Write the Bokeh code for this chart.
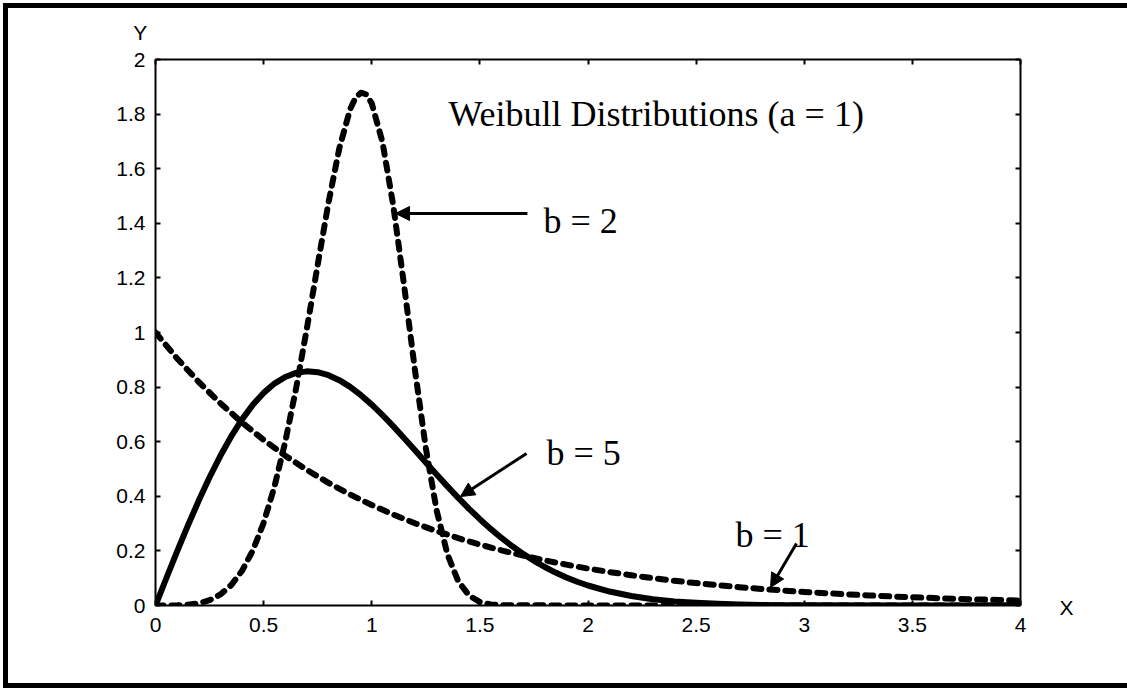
from bokeh.plotting import figure
from bokeh.models import (LinearAxis, Range1d, FixedTicker, Label, Arrow,
                          NormalHead)
from bokeh.embed import file_html
from bokeh.resources import INLINE

# Weibull densities, scale a = 1, shapes as labelled on the chart
x_b1 = [0.0, 0.1, 0.2, 0.3, 0.4, 0.5, 0.6, 0.7, 0.8, 0.9, 1.0, 1.1, 1.2, 1.3,
        1.4, 1.5, 1.6, 1.7, 1.8, 1.9, 2.0, 2.1, 2.2, 2.3, 2.4, 2.5, 2.6, 2.7,
        2.8, 2.9, 3.0, 3.1, 3.2, 3.3, 3.4, 3.5, 3.6, 3.7, 3.8, 3.9, 4.0]
y_b1 = [1.0, 0.9048, 0.8187, 0.7408, 0.6703, 0.6065, 0.5488, 0.4966, 0.4493,
        0.4066, 0.3679, 0.3329, 0.3012, 0.2725, 0.2466, 0.2231, 0.2019, 0.1827,
        0.1653, 0.1496, 0.1353, 0.1225, 0.1108, 0.1003, 0.0907, 0.0821, 0.0743,
        0.0672, 0.0608, 0.0550, 0.0498, 0.0450, 0.0408, 0.0369, 0.0334, 0.0302,
        0.0273, 0.0247, 0.0224, 0.0202, 0.0183]

x_solid = [0.0, 0.05, 0.1, 0.15, 0.2, 0.25, 0.3, 0.35, 0.4, 0.45, 0.5, 0.55,
           0.6, 0.65, 0.7, 0.75, 0.8, 0.85, 0.9, 0.95, 1.0, 1.05, 1.1, 1.15,
           1.2, 1.25, 1.3, 1.35, 1.4, 1.45, 1.5, 1.55, 1.6, 1.65, 1.7, 1.75,
           1.8, 1.85, 1.9, 1.95, 2.0, 2.1, 2.2, 2.3, 2.4, 2.5, 2.6, 2.7, 2.8,
           2.9, 3.0, 3.5, 4.0]
y_solid = [0.0, 0.0998, 0.198, 0.2933, 0.3843, 0.4697, 0.5484, 0.6193, 0.6817,
           0.7350, 0.7788, 0.8129, 0.8372, 0.8520, 0.8577, 0.8547, 0.8437,
           0.8254, 0.8008, 0.7705, 0.7358, 0.6973, 0.6560, 0.6129, 0.5686,
           0.5240, 0.4797, 0.4364, 0.3944, 0.3542, 0.3162, 0.2806, 0.2474,
           0.2169, 0.1890, 0.1637, 0.1410, 0.1207, 0.1028, 0.0870, 0.0733,
           0.0511, 0.0348, 0.0232, 0.0151, 0.0097, 0.0060, 0.0037, 0.0022,
           0.0013, 0.0007, 0.0, 0.0]

x_peak = [0.0, 0.05, 0.1, 0.15, 0.2, 0.25, 0.3, 0.35, 0.4, 0.45, 0.5, 0.55,
          0.6, 0.65, 0.7, 0.75, 0.8, 0.85, 0.9, 0.925, 0.95, 0.975, 1.0, 1.05,
          1.1, 1.15, 1.2, 1.25, 1.3, 1.35, 1.4, 1.45, 1.5, 1.55, 1.6, 2.0, 2.5,
          3.0, 3.5, 4.0]
y_peak = [0.0, 0.0, 0.0005, 0.0025, 0.008, 0.0195, 0.0404, 0.0746, 0.1267,
          0.2013, 0.3029, 0.4351, 0.5995, 0.7948, 1.0148, 1.2478, 1.4758,
          1.6747, 1.8177, 1.8598, 1.8785, 1.8721, 1.8394, 1.6961, 1.4625,
          1.1702, 0.8612, 0.5772, 0.3486, 0.1875, 0.0887, 0.0364, 0.0127,
          0.0038, 0.0009, 0.0, 0.0, 0.0, 0.0, 0.0]

x_ticks = [0, 0.5, 1, 1.5, 2, 2.5, 3, 3.5, 4]
x_tick_labels = ["0", "0.5", "1", "1.5", "2", "2.5", "3", "3.5", "4"]
y_ticks = [0, 0.2, 0.4, 0.6, 0.8, 1, 1.2, 1.4, 1.6, 1.8, 2]
y_tick_labels = ["0", "0.2", "0.4", "0.6", "0.8", "1", "1.2", "1.4", "1.6",
                 "1.8", "2"]

title_text = "Weibull Distributions (a = 1)"
curve_labels = ["b = 2", "b = 5", "b = 1"]

SANS = "Liberation Sans"
SERIF = "Liberation Serif"

# figure offset 3px from the page corner; black 5px strips painted inside its
# top, left and bottom edges (the border area is transparent so they show)
p = figure(width=1124, height=685, output_backend="svg", toolbar_location=None,
           x_range=Range1d(0, 4), y_range=Range1d(0, 2),
           min_border_left=152, min_border_right=107,
           min_border_top=56, min_border_bottom=83,
           x_axis_location=None, y_axis_location=None)
p.styles = {"margin-top": "3px", "margin-left": "3px",
            "background-color": "white",
            "box-shadow": ("inset 5px 0 0 0 black, inset 0 5px 0 0 black, "
                           "inset 0 -5px 0 0 black")}
p.grid.visible = False
p.outline_line_color = None
p.background_fill_color = "white"
p.border_fill_color = None


def style_axis(ax, ticks, labels, show_labels, standoff):
    ax.ticker = FixedTicker(ticks=ticks)
    ax.major_label_overrides = {t: s for t, s in zip(ticks, labels)}
    ax.minor_tick_line_color = None
    ax.major_tick_in = 5
    ax.major_tick_out = 0
    ax.major_tick_line_width = 2
    ax.major_tick_line_color = "black"
    ax.axis_line_width = 2
    ax.axis_line_color = "black"
    ax.major_label_text_font = SANS
    ax.major_label_text_font_size = "21px"
    ax.major_label_text_color = "black" if show_labels else None
    ax.major_label_standoff = standoff


bottom = LinearAxis()
style_axis(bottom, x_ticks, x_tick_labels, True, 12)
top = LinearAxis()
style_axis(top, x_ticks, x_tick_labels, False, 4)
left = LinearAxis()
style_axis(left, y_ticks, y_tick_labels, True, 10)
right = LinearAxis()
style_axis(right, y_ticks, y_tick_labels, False, 4)
p.add_layout(bottom, "below")
p.add_layout(top, "above")
p.add_layout(left, "left")
p.add_layout(right, "right")

# curves
dash = "8 8"
p.line(x_b1, y_b1, line_color="black", line_width=6, line_dash=dash,
       line_cap="round", line_join="round")
p.line(x_peak, y_peak, line_color="black", line_width=6, line_dash=dash,
       line_cap="round", line_join="round")
p.line(x_solid, y_solid, line_color="black", line_width=6,
       line_cap="round", line_join="round")

# axis names, placed in the side panels so they sit outside the frame
p.add_layout(Label(x=-0.07, y=2.1, text="Y", text_font=SANS,
                   text_font_size="21px", text_align="center",
                   text_baseline="middle", text_color="black"), "left")
p.add_layout(Label(x=4.213, y=-0.007, text="X", text_font=SANS,
                   text_font_size="21px", text_align="center",
                   text_baseline="middle", text_color="black"), "right")

# title inside the axes
p.add_layout(Label(x=1.355, y=1.802, text=title_text, text_font=SERIF,
                   text_font_size="36px", text_align="left",
                   text_baseline="alphabetic", text_color="black"))

# curve annotations with arrows
label_pos = [(1.794, 1.410), (1.808, 0.560), (2.682, 0.260)]
arrow_pos = [((1.720, 1.436), (1.110, 1.436)),
             ((1.716, 0.557), (1.410, 0.399)),
             ((2.964, 0.227), (2.844, 0.066))]
for txt, (lx, ly), ((x0, y0), (x1, y1)) in zip(curve_labels, label_pos,
                                              arrow_pos):
    p.add_layout(Label(x=lx, y=ly, text=txt, text_font=SERIF,
                       text_font_size="36px", text_align="left",
                       text_baseline="alphabetic", text_color="black"))
    p.add_layout(Arrow(x_start=x0, y_start=y0, x_end=x1, y_end=y1,
                       line_width=3, line_color="black",
                       end=NormalHead(size=14, fill_color="black",
                                      line_color="black", line_width=1)))

open("out.html", "w").write(file_html(p, INLINE))
